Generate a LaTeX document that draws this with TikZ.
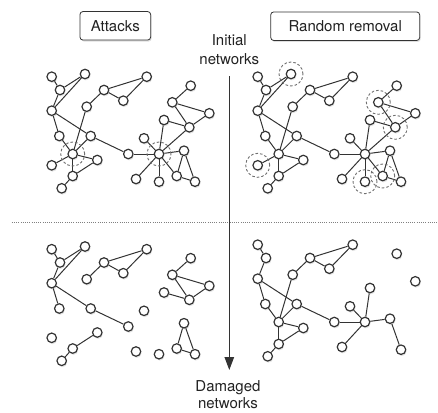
\documentclass[tikz,border=0pt]{standalone}
\usepackage{fontspec}
\setmainfont{TeX Gyre Heros}
\usetikzlibrary{shadows,arrows.meta}
\definecolor{ink}{HTML}{333333}
\definecolor{txt}{HTML}{222222}
\definecolor{ringc}{HTML}{707070}
\tikzset{
  vtx/.style={circle, draw=ink, fill=white, line width=1.2pt, minimum size=9.5pt, inner sep=0pt,
    drop shadow={opacity=0.22, shadow xshift=0.8pt, shadow yshift=-1.6pt}},
  edge/.style={draw=ink, line width=1pt},
  ring/.style={circle, draw=ringc, line width=0.9pt, dash pattern=on 2.6pt off 2pt,
    minimum size=24pt, inner sep=0pt},
  labelbox/.style={draw=ink, rounded corners=3pt, fill=white, line width=0.8pt,
    minimum height=28.5pt, inner sep=0pt, text=txt, font=\fontsize{15}{18}\selectfont,
    drop shadow={opacity=0.25, shadow xshift=1pt, shadow yshift=-1.5pt}},
  caption/.style={align=center, inner sep=0pt, text=txt},
  divider/.style={draw=gray, line width=0.9pt, dash pattern=on 0.9pt off 1.3pt},
  flow/.style={draw=ink, line width=1.1pt, -{Triangle[length=13pt,width=9.5pt]}},
}
\newcommand\netcoords{%
  \coordinate (c1) at (51.7,76.7);
  \coordinate (c2) at (85,74);
  \coordinate (c3) at (60,90);
  \coordinate (c4) at (146.7,76.7);
  \coordinate (c5) at (104,90);
  \coordinate (c6) at (123.3,100.7);
  \coordinate (c7) at (51.7,110.7);
  \coordinate (c8) at (86.7,106.7);
  \coordinate (c9) at (190.7,85.7);
  \coordinate (c10) at (172.3,102.3);
  \coordinate (c11) at (209.3,113.3);
  \coordinate (c12) at (164,120);
  \coordinate (c13) at (189.3,127.3);
  \coordinate (c14) at (59.3,136);
  \coordinate (c15) at (90.7,136);
  \coordinate (c16) at (144,138.3);
  \coordinate (c17) at (72.7,154);
  \coordinate (c18) at (128.3,154);
  \coordinate (c19) at (159,154);
  \coordinate (c20) at (184,150.7);
  \coordinate (c21) at (51.7,165.3);
  \coordinate (c22) at (97.3,160);
  \coordinate (c23) at (72.7,176);
  \coordinate (c24) at (61.7,188.3);
  \coordinate (c25) at (136,179);
  \coordinate (c26) at (159,181.7);
  \coordinate (c27) at (176.7,176);
  \coordinate (c28) at (195,181.7);
}
\begin{document}
\begin{tikzpicture}[x=1pt,y=-1pt]
  \path[use as bounding box] (0,0) rectangle (438,412);

  % headers
  \node[labelbox, minimum width=70.7pt] (attacks) at (115.3,25.8) {Attacks};
  \node[labelbox, minimum width=149pt] (random) at (345.2,26.2) {Random removal};

  % divider
  \coordinate (dl) at (11.7,222.3);
  \coordinate (dr) at (438,222.3);
  \draw[divider] (dl) -- (dr);

  % central arrow and captions
  \node[caption, font=\fontsize{15}{18.8}\selectfont] (init) at (229.3,49.7) {Initial\\networks};
  \node[caption, font=\fontsize{15}{16.8}\selectfont] (dam) at (228,394.5) {Damaged\\networks};
  \coordinate (atop) at (229.3,76);
  \coordinate (abot) at (229.3,370);
  \draw[flow] (atop) -- (abot);

  % attacks, initial
  \begin{scope}[name prefix=LI-]
    \netcoords
    \foreach \i in {1,...,28} {\node[vtx] (n\i) at (c\i) {};}
    \foreach \a/\b in {1/3,3/2,7/2,7/3,4/5,5/6,4/6,5/8,8/17,7/14,14/17,7/15,15/18,15/17,
        17/21,17/22,17/23,22/23,23/24,18/19,19/12,19/16,19/13,19/20,19/25,19/26,19/27,
        9/10,10/11,10/13,11/13,12/13,20/27,20/28,27/28}
      {\draw[edge] (n\a) -- (n\b);}
    \foreach \i in {17,19} {\node[ring] (r\i) at (c\i) {};}
  \end{scope}

  % random removal, initial
  \begin{scope}[shift={(206,0)}, name prefix=RI-]
    \netcoords
    \foreach \i in {1,...,28} {\node[vtx] (n\i) at (c\i) {};}
    \foreach \a/\b in {1/3,3/2,7/2,7/3,4/5,5/6,4/6,5/8,8/17,7/14,14/17,7/15,15/18,15/17,
        17/21,17/22,17/23,22/23,23/24,18/19,19/12,19/16,19/13,19/20,19/25,19/26,19/27,
        9/10,10/11,10/13,11/13,12/13,20/27,20/28,27/28}
      {\draw[edge] (n\a) -- (n\b);}
    \foreach \i in {2,10,13,21,26,27} {\node[ring] (r\i) at (c\i) {};}
  \end{scope}

  % attacks, damaged
  \begin{scope}[shift={(0,172.5)}, name prefix=LD-]
    \netcoords
    \foreach \i in {1,...,16,18,20,21,...,28} {\node[vtx] (n\i) at (c\i) {};}
    \foreach \a/\b in {1/3,3/2,7/2,7/3,4/5,5/6,4/6,5/8,7/14,7/15,15/18,22/23,23/24,
        9/10,10/11,10/13,11/13,12/13,20/27,20/28,27/28}
      {\draw[edge] (n\a) -- (n\b);}
  \end{scope}

  % random removal, damaged
  \begin{scope}[shift={(206,168)}, name prefix=RD-]
    \netcoords
    \foreach \i in {1,3,4,5,6,7,8,9,11,12,14,15,16,17,18,19,20,22,23,24,25,28} {\node[vtx] (n\i) at (c\i) {};}
    \foreach \a/\b in {1/3,7/3,4/5,5/6,4/6,5/8,8/17,7/14,14/17,7/15,15/18,15/17,17/22,17/23,
        22/23,23/24,18/19,19/12,19/16,19/20,19/25,20/28}
      {\draw[edge] (n\a) -- (n\b);}
  \end{scope}
\end{tikzpicture}
\end{document}
